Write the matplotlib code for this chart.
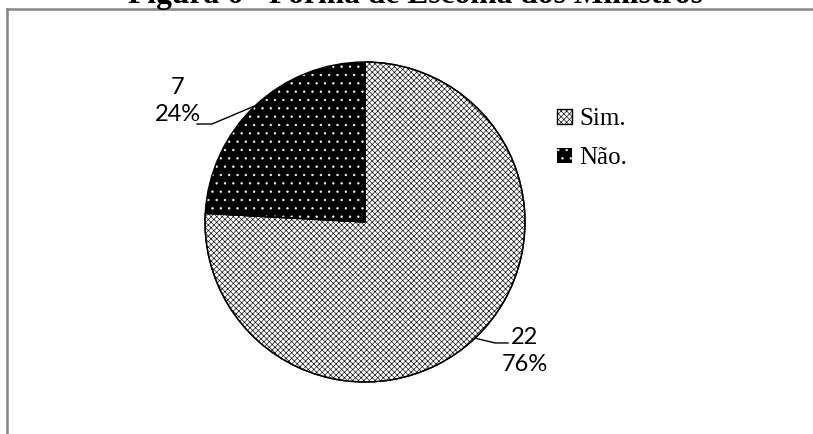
import numpy as np
import matplotlib
matplotlib.use('Agg')
import matplotlib.pyplot as plt
from matplotlib.lines import Line2D

# dados
categorias = ['Sim.', 'Não.']
valores = [22, 7]
titulo = 'Figura 6 - Forma de Escolha dos Ministros'

W, H = 813, 434
plt.rcParams['hatch.linewidth'] = 0.45

fig = plt.figure(figsize=(W / 100, H / 100), dpi=100)

# pie axes, centre (365,222) px, radius 160 px
cx, cy, r = 365, 222, 160
ax = fig.add_axes([(cx - r) / W, (H - cy - r) / H, 2 * r / W, 2 * r / H])

fills, _ = ax.pie(valores, startangle=90, counterclock=False, radius=1)
fills[0].set_facecolor('white')
fills[0].set_edgecolor('black')
fills[0].set_hatch('xxxxxx')
fills[1].set_facecolor('black')
fills[1].set_edgecolor('white')
fills[1].set_hatch('..')
fills[1].set_linewidth(0)
# outlines on top
ax.pie(valores, startangle=90, counterclock=False, radius=1,
       wedgeprops=dict(fill=False, edgecolor='black', linewidth=1))
ax.set_xlim(-1, 1)
ax.set_ylim(-1, 1)
ax.set_aspect('equal')
ax.axis('off')

# labels with leader lines
frac = np.array(valores) / sum(valores)
mid = np.deg2rad(90 - 360 * (np.cumsum(frac) - frac / 2))
label_pos = [(1.0, -0.806), (-1.169, 0.756)]
elbow = [((0.8125, -0.756), (0.894, -0.756)), ((-0.956, 0.6125), (-1.05, 0.6125))]
for i, v in enumerate(valores):
    ex, ey = np.cos(mid[i]), np.sin(mid[i])
    (x1, y1), (x2, y2) = elbow[i]
    ax.plot([ex, x1, x2], [ey, y1, y2], color='black', lw=1, clip_on=False)
    ax.text(label_pos[i][0], label_pos[i][1], '%d\n%d%%' % (v, round(frac[i] * 100)),
            ha='center', va='center', multialignment='center', linespacing=1.35,
            fontsize=17, family='Lato', clip_on=False)

# legend
fig.legend(handles=fills, labels=categorias, loc='upper left',
           bbox_to_anchor=(557 / W, 1 - 108 / H), frameon=False,
           prop={'family': 'Liberation Serif', 'size': 18},
           handlelength=0.6, handleheight=0.55, handletextpad=0.3,
           labelspacing=0.7, borderpad=0, borderaxespad=0)

# title (cut off at top, as in the source) and chart border
fig.text(415 / W, 1 - 3 / H, titulo, ha='center', va='baseline',
         fontsize=22.7, fontweight='bold', family='Liberation Serif')
fig.add_artist(Line2D([7 / W, 1], [1 - 9 / H, 1 - 9 / H], transform=fig.transFigure,
                      color='#868686', lw=1.8))
fig.add_artist(Line2D([7 / W, 7 / W], [0, 1 - 9 / H], transform=fig.transFigure,
                      color='#868686', lw=1.8))

fig.savefig('out.png', dpi=100)
